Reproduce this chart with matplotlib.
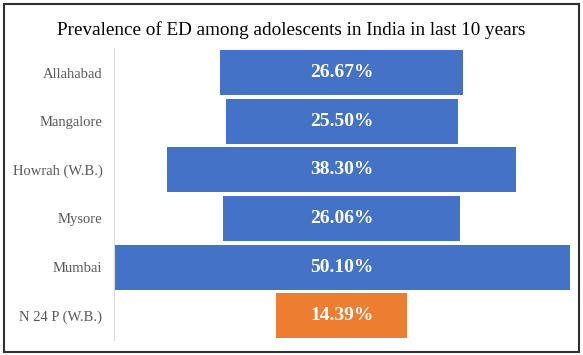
import matplotlib
matplotlib.use("Agg")
import matplotlib.pyplot as plt
from matplotlib.patches import Rectangle

cities = ["Allahabad", "Mangalore", "Howrah (W.B.)", "Mysore", "Mumbai", "N 24 P (W.B.)"]
values = [26.67, 25.50, 38.30, 26.06, 50.10, 14.39]
labels = ["26.67%", "25.50%", "38.30%", "26.06%", "50.10%", "14.39%"]
colors = ["#4472C4", "#4472C4", "#4472C4", "#4472C4", "#4472C4", "#ED7D31"]
title = "Prevalence of ED among adolescents in India in last 10 years"

W, H = 583, 355
fig = plt.figure(figsize=(W / 100, H / 100), dpi=100)
fig.patch.set_facecolor("white")
fig.patches.append(Rectangle((4 / W, 3.5 / H), 1 - 8 / W, 1 - 7 / H, transform=fig.transFigure,
                             fill=False, edgecolor="#303030", linewidth=1.5))

ax = fig.add_axes([113.5 / W, (H - 340) / H, (570 - 113.5) / W, (340 - 48.3) / H])
n = len(cities)
ypos = list(range(n))
lefts = [-v / 2 for v in values]
ax.barh(ypos, values, left=lefts, height=0.925, color=colors)
mx = max(values)
ax.set_xlim(-mx / 2, mx / 2)
ax.set_ylim(n - 0.5, -0.5)
for y, lab in zip(ypos, labels):
    ax.text(0, y, lab, ha="center", va="center", color="white", fontsize=14,
            fontweight="bold", family="Liberation Serif")
ax.set_yticks(ypos)
ax.set_yticklabels(cities, family="Liberation Serif", fontsize=10.5, color="#595959")
ax.tick_params(axis="y", length=0, pad=8)
ax.set_xticks([])
for s in ["top", "right", "bottom"]:
    ax.spines[s].set_visible(False)
ax.spines["left"].set_color("#D9D9D9")
fig.text(0.5, (H - 30) / H, title, ha="center", va="center", fontsize=13.8,
         family="Liberation Serif", color="black")
fig.savefig("out.png", dpi=100)
